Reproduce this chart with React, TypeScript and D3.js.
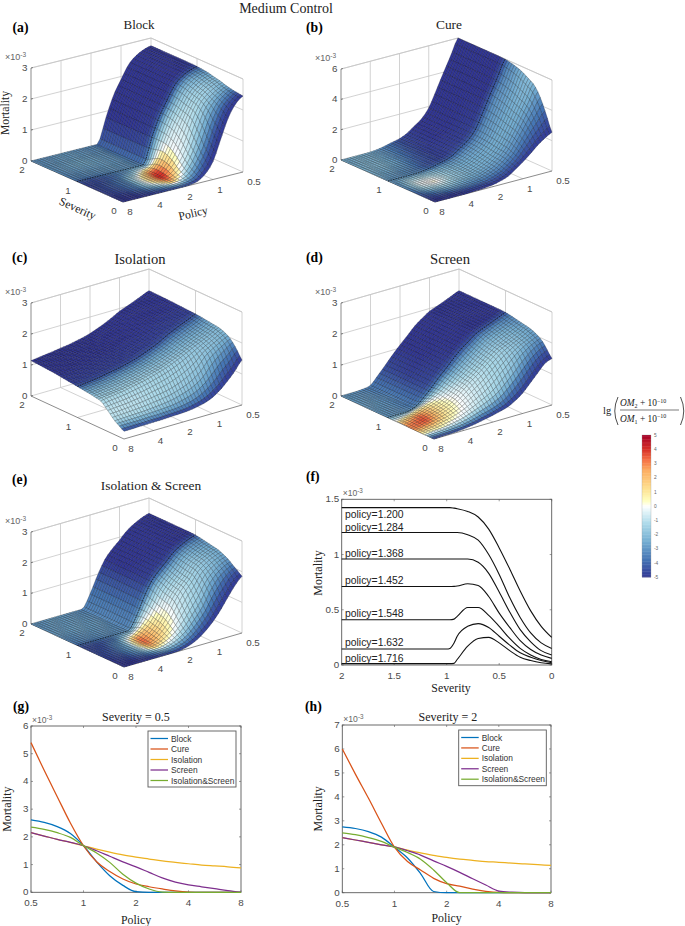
import React from "react";
import * as d3 from "d3";

// ---- shared axes of the surface tables (values in 1e-3 mortality) ----
const severityGrid = [2, 1.5, 1.1, 1, 0.9, 0.8, 0.7, 0.6, 0.5, 0.4, 0.3, 0.2, 0.1, 0];
const policyGrid = [0.5, 0.595, 0.707, 0.841, 1, 1.189, 1.414, 1.682, 2, 2.378, 2.828, 3.364, 4, 4.757, 5.657, 6.727, 8];
const colorPolicy = [0.5, 0.707, 1, 1.414, 2, 2.828, 4, 5.657, 8];

const blockZ = [
  [2.75, 2.68, 2.55, 2.32, 1.9, 1.45, 0.8, 0.05],
  [2.75, 2.68, 2.55, 2.32, 1.9, 1.45, 0.8, 0.05],
  [2.75, 2.68, 2.55, 2.32, 1.9, 1.44, 0.81, 0.05],
  [2.74, 2.67, 2.54, 2.31, 1.89, 1.43, 0.82, 0.05],
  [2.73, 2.66, 2.53, 2.29, 1.87, 1.42, 0.82, 0.12],
  [2.71, 2.64, 2.5, 2.26, 1.84, 1.39, 0.82, 0.22, 0.01],
  [2.68, 2.6, 2.46, 2.21, 1.79, 1.34, 0.8, 0.29, 0.03],
  [2.64, 2.56, 2.41, 2.16, 1.74, 1.24, 0.72, 0.28, 0.04],
  [2.61, 2.52, 2.37, 2.12, 1.68, 1.1, 0.6, 0.25, 0.02],
  [2.56, 2.45, 2.28, 2.02, 1.5, 0.88, 0.43, 0.16, 0.015],
  [2.52, 2.4, 2.2, 1.85, 1.25, 0.68, 0.28, 0.09, 0.01],
  [2.49, 2.35, 2.1, 1.62, 0.97, 0.5, 0.18, 0.05, 0.005],
  [2.47, 2.3, 2.0, 1.42, 0.75, 0.36, 0.11, 0.03],
  [2.45, 2.25, 1.85, 1.22, 0.58, 0.25, 0.07, 0.015],
];
const cureZ = [
  [6.0, 4.95, 3.95, 2.9, 1.9, 1.3, 0.95, 0.6, 0.38, 0.27, 0.15, 0.06, 0.01],
  [6.0, 4.95, 3.95, 2.9, 1.9, 1.3, 0.95, 0.6, 0.38, 0.27, 0.15, 0.06, 0.01],
  [6.0, 4.95, 3.95, 2.9, 1.9, 1.3, 0.95, 0.6, 0.38, 0.27, 0.15, 0.06, 0.01],
  [5.98, 4.93, 3.93, 2.88, 1.9, 1.3, 0.95, 0.6, 0.38, 0.27, 0.15, 0.06, 0.01],
  [5.93, 4.88, 3.88, 2.84, 1.88, 1.28, 0.93, 0.59, 0.38, 0.26, 0.15, 0.06, 0.01],
  [5.85, 4.8, 3.8, 2.78, 1.85, 1.26, 0.9, 0.58, 0.37, 0.25, 0.145, 0.06, 0.01],
  [5.75, 4.7, 3.7, 2.7, 1.8, 1.22, 0.85, 0.55, 0.35, 0.24, 0.14, 0.057, 0.01],
  [5.6, 4.56, 3.58, 2.6, 1.75, 1.17, 0.8, 0.52, 0.33, 0.22, 0.13, 0.055, 0.01],
  [5.4, 4.4, 3.45, 2.5, 1.68, 1.1, 0.75, 0.48, 0.3, 0.2, 0.12, 0.05, 0.01],
  [5.2, 4.25, 3.33, 2.42, 1.62, 1.07, 0.7, 0.45, 0.28, 0.18, 0.11, 0.045, 0.01],
  [4.8, 3.96, 3.14, 2.3, 1.55, 1.03, 0.66, 0.42, 0.25, 0.16, 0.09, 0.04, 0.008],
  [4.15, 3.48, 2.8, 2.08, 1.4, 0.95, 0.58, 0.36, 0.21, 0.13, 0.07, 0.03, 0.005],
  [3.35, 2.88, 2.37, 1.8, 1.25, 0.85, 0.5, 0.3, 0.16, 0.1, 0.05, 0.02],
  [2.55, 2.28, 1.93, 1.5, 1.1, 0.75, 0.42, 0.25, 0.13, 0.07, 0.03, 0.01],
];
const isolationZ = [
  [2.3, 2.2, 2.1, 2.0, 1.91, 1.78, 1.66, 1.56, 1.47, 1.4, 1.35, 1.3, 1.27, 1.23, 1.2, 1.17, 1.14],
  [2.28, 2.18, 2.08, 1.97, 1.87, 1.74, 1.62, 1.52, 1.43, 1.36, 1.31, 1.26, 1.22, 1.18, 1.15, 1.12, 1.09],
  [2.25, 2.15, 2.05, 1.94, 1.82, 1.68, 1.57, 1.47, 1.38, 1.31, 1.25, 1.2, 1.16, 1.12, 1.08, 1.05, 1.02],
  [2.24, 2.13, 2.03, 1.92, 1.8, 1.66, 1.55, 1.45, 1.36, 1.29, 1.23, 1.18, 1.14, 1.09, 1.06, 1.03, 1.0],
  [2.23, 2.12, 2.02, 1.91, 1.78, 1.64, 1.53, 1.43, 1.34, 1.27, 1.21, 1.16, 1.11, 1.07, 1.04, 1.01, 0.98],
  [2.21, 2.09, 1.98, 1.87, 1.76, 1.62, 1.51, 1.41, 1.32, 1.25, 1.19, 1.14, 1.09, 1.05, 1.02, 0.99, 0.96],
  [2.19, 2.07, 1.96, 1.85, 1.73, 1.6, 1.49, 1.39, 1.31, 1.24, 1.17, 1.12, 1.07, 1.03, 1.0, 0.97, 0.94],
  [2.17, 2.05, 1.93, 1.82, 1.7, 1.58, 1.47, 1.37, 1.29, 1.22, 1.15, 1.1, 1.05, 1.0, 0.97, 0.94, 0.91],
  [2.15, 2.03, 1.91, 1.8, 1.68, 1.56, 1.45, 1.35, 1.27, 1.2, 1.13, 1.08, 1.03, 0.98, 0.95, 0.92, 0.88],
  [2.1, 1.98, 1.85, 1.72, 1.55, 1.4, 1.27, 1.17, 1.08, 1.02, 0.96, 0.91, 0.87, 0.83, 0.8, 0.78, 0.75],
  [2.02, 1.9, 1.76, 1.6, 1.33, 1.15, 1.02, 0.92, 0.84, 0.79, 0.75, 0.71, 0.68, 0.65, 0.63, 0.61, 0.6],
  [1.88, 1.72, 1.55, 1.32, 1.05, 0.87, 0.75, 0.67, 0.6, 0.56, 0.53, 0.51, 0.49, 0.48, 0.47, 0.46, 0.45],
  [1.68, 1.42, 1.2, 0.95, 0.75, 0.6, 0.5, 0.44, 0.4, 0.38, 0.37, 0.36, 0.36, 0.35, 0.35, 0.35, 0.35],
  [1.45, 1.15, 0.9, 0.68, 0.52, 0.42, 0.36, 0.32, 0.3, 0.29, 0.28, 0.27, 0.27, 0.26, 0.26, 0.25, 0.25],
];
const screenZ = [
  [2.3, 2.2, 2.1, 2.0, 1.91, 1.75, 1.57, 1.33, 1.1, 0.85, 0.58, 0.32, 0.07, 0.02],
  [2.3, 2.2, 2.1, 2.0, 1.91, 1.75, 1.57, 1.33, 1.1, 0.85, 0.58, 0.32, 0.07, 0.02],
  [2.3, 2.2, 2.1, 2.0, 1.9, 1.73, 1.55, 1.32, 1.08, 0.84, 0.57, 0.32, 0.08, 0.02],
  [2.29, 2.19, 2.09, 1.99, 1.88, 1.7, 1.52, 1.3, 1.05, 0.82, 0.56, 0.33, 0.12, 0.02],
  [2.27, 2.16, 2.06, 1.95, 1.83, 1.64, 1.46, 1.25, 1.03, 0.81, 0.58, 0.38, 0.22, 0.12, 0.04, 0.01],
  [2.24, 2.13, 2.02, 1.92, 1.78, 1.6, 1.4, 1.2, 1.0, 0.78, 0.58, 0.42, 0.3, 0.2, 0.1, 0.04, 0.01],
  [2.21, 2.1, 1.99, 1.88, 1.74, 1.56, 1.36, 1.16, 0.97, 0.76, 0.56, 0.41, 0.31, 0.23, 0.14, 0.07, 0.02],
  [2.18, 2.06, 1.95, 1.83, 1.71, 1.53, 1.33, 1.13, 0.94, 0.74, 0.54, 0.39, 0.29, 0.22, 0.15, 0.07, 0.01],
  [2.15, 2.03, 1.91, 1.8, 1.68, 1.5, 1.3, 1.1, 0.92, 0.72, 0.52, 0.37, 0.27, 0.2, 0.13, 0.06],
  [2.1, 1.98, 1.87, 1.74, 1.58, 1.38, 1.16, 0.96, 0.79, 0.62, 0.45, 0.32, 0.23, 0.17, 0.11, 0.05],
  [2.02, 1.92, 1.8, 1.63, 1.4, 1.18, 0.95, 0.76, 0.62, 0.48, 0.35, 0.25, 0.18, 0.13, 0.08, 0.04],
  [1.9, 1.8, 1.62, 1.4, 1.15, 0.92, 0.7, 0.55, 0.44, 0.34, 0.25, 0.17, 0.12, 0.08, 0.05, 0.03],
  [1.7, 1.58, 1.38, 1.12, 0.87, 0.66, 0.48, 0.37, 0.29, 0.23, 0.16, 0.11, 0.07, 0.05, 0.03, 0.01],
  [1.5, 1.4, 1.15, 0.9, 0.65, 0.48, 0.35, 0.28, 0.22, 0.17, 0.12, 0.08, 0.05, 0.03, 0.02, 0.01],
];
const isoScreenZ = [
  [2.5, 2.42, 2.3, 2.14, 1.9, 1.68, 1.4, 0.95, 0.42],
  [2.5, 2.42, 2.3, 2.14, 1.9, 1.68, 1.4, 0.95, 0.42],
  [2.5, 2.42, 2.3, 2.14, 1.9, 1.67, 1.39, 0.94, 0.41],
  [2.49, 2.41, 2.29, 2.13, 1.89, 1.66, 1.38, 0.93, 0.4, 0.01],
  [2.47, 2.39, 2.27, 2.1, 1.85, 1.6, 1.33, 0.88, 0.45, 0.1],
  [2.44, 2.36, 2.24, 2.07, 1.79, 1.55, 1.27, 0.83, 0.45, 0.18, 0.02],
  [2.41, 2.33, 2.21, 2.04, 1.75, 1.5, 1.2, 0.77, 0.41, 0.18, 0.03],
  [2.38, 2.3, 2.18, 2.01, 1.71, 1.46, 1.16, 0.72, 0.37, 0.15, 0.02],
  [2.35, 2.27, 2.15, 1.98, 1.68, 1.42, 1.08, 0.65, 0.33, 0.12, 0.01],
  [2.28, 2.2, 2.06, 1.87, 1.52, 1.22, 0.85, 0.5, 0.25, 0.09, 0.01],
  [2.2, 2.1, 1.93, 1.68, 1.28, 0.95, 0.62, 0.36, 0.17, 0.06, 0.005],
  [2.08, 1.97, 1.77, 1.45, 1.03, 0.72, 0.44, 0.24, 0.11, 0.03],
  [1.97, 1.8, 1.5, 1.18, 0.8, 0.53, 0.31, 0.15, 0.06, 0.01],
  [1.85, 1.6, 1.27, 0.92, 0.63, 0.4, 0.22, 0.1, 0.03],
];

// lg ratio: severityGrid rows x colorPolicy columns
const blockC = [
  [-5, -5, -5, -5, -3.2, -3, -2.8, -3, -3],
  [-5, -5, -5, -5, -3, -2.6, -2.4, -2.6, -3],
  [-4.9, -5, -5, -4.8, -3, -2.8, -3, -3.2, -3.4],
  [-4.5, -4.5, -4.5, -4, -3, -3, -3.5, -4, -4],
  [-3.5, -3, -2.6, -2, -1, -3, -4, -4.5, -4.6],
  [-3, -2.3, -1.6, -0.9, 1.6, -2, -3.8, -4.5, -4.8],
  [-2.6, -1.9, -1.2, -0.4, 3.4, -0.6, -3.5, -4.4, -4.8],
  [-2.3, -1.6, -1, -0.1, 4.2, 0.4, -3.4, -4.3, -4.8],
  [-2.2, -1.5, -1, 0, 4.5, 0.6, -3.4, -4.3, -4.8],
  [-2.5, -1.8, -1.3, -0.2, 4.1, 0.5, -3.4, -4.4, -4.8],
  [-3, -2.5, -2, -0.8, 3, -0.4, -3.6, -4.6, -4.9],
  [-3.8, -3.4, -3.2, -2.2, 1.2, -2.2, -4, -4.8, -5],
  [-4.6, -4.5, -4.5, -3.6, -2.4, -3.8, -4.5, -5, -5],
  [-5, -5, -5, -5, -4.8, -4.8, -5, -5, -5],
];
const cureC = [
  [-5, -5, -5, -5, -4.6, -3.5, -2.5, -2.2, -2.5],
  [-5, -5, -5, -5, -4.8, -4, -2.5, -2, -2.2],
  [-5, -5, -4.8, -4.8, -4.8, -4.4, -3.5, -3, -2.6],
  [-4.5, -4.3, -4.2, -4.2, -4.2, -4, -3.3, -3, -3],
  [-3.4, -3.2, -3.2, -3.2, -3, -2.6, -1.8, -1.8, -3],
  [-3, -2.9, -2.9, -2.8, -2.6, -2, -0.8, -0.8, -3.2],
  [-2.6, -2.7, -2.7, -2.6, -2.4, -1.6, 0, -0.2, -3.2],
  [-2.3, -2.5, -2.5, -2.5, -2.3, -1.6, 0.3, -0.4, -3.5],
  [-2.1, -2.4, -2.5, -2.5, -2.3, -1.7, -0.5, -1, -3.8],
  [-2.2, -2.5, -2.6, -2.6, -2.5, -2.1, -1.4, -2.2, -4.2],
  [-2.8, -2.9, -2.9, -2.9, -2.9, -2.8, -2.6, -3.4, -4.5],
  [-3.6, -3.5, -3.4, -3.5, -3.5, -3.6, -3.8, -4.2, -4.8],
  [-4.4, -4.2, -4.2, -4.3, -4.4, -4.5, -4.8, -4.9, -5],
  [-5, -5, -5, -5, -5, -5, -5, -5, -5],
];
const isolationC = [
  [-5, -5, -5, -5, -5, -5, -5, -5, -5],
  [-5, -5, -5, -5, -5, -5, -5, -5, -5],
  [-4.8, -4.8, -4.8, -4.8, -4.8, -4.8, -4.8, -4.8, -4.8],
  [-4.4, -4.4, -4.4, -4.4, -4.4, -4.4, -4.4, -4.4, -4.4],
  [-3.6, -3.6, -3.4, -3.3, -3.3, -3.2, -3.2, -3.2, -3.2],
  [-3, -2.9, -2.8, -2.6, -2.6, -2.5, -2.5, -2.5, -2.5],
  [-2.6, -2.5, -2.4, -2.2, -2.1, -2, -2, -2, -2],
  [-2.4, -2.2, -2, -1.8, -1.7, -1.6, -1.6, -1.6, -1.6],
  [-2.2, -2, -1.8, -1.6, -1.5, -1.4, -1.3, -1.3, -1.3],
  [-2.2, -1.9, -1.7, -1.5, -1.4, -1.2, -1.1, -1, -1],
  [-2.5, -2.1, -1.8, -1.6, -1.4, -1.2, -1, -0.9, -0.9],
  [-3.2, -2.8, -2.3, -2, -1.8, -1.5, -1.3, -1.2, -1.2],
  [-4.2, -4, -3.4, -3.2, -3, -2.8, -2.6, -2.6, -2.6],
  [-5, -5, -5, -5, -5, -5, -4.8, -4.8, -4.8],
];
const screenC = [
  [-5, -5, -5, -5, -5, -4.6, -3.6, -3, -2.8],
  [-5, -5, -5, -5, -5, -4.8, -3.5, -2.8, -2.6],
  [-5, -5, -5, -5, -4.8, -4.6, -3.6, -3, -2.8],
  [-4.4, -4.4, -4.4, -4.4, -4.2, -3.8, -3.2, -2.8, -2.8],
  [-3.5, -3.2, -3.1, -3, -2.9, -2.2, -1, -0.4, -1.2],
  [-3.2, -2.7, -2.4, -2.2, -2, -1, 0.3, 1, 0.4],
  [-3, -2.3, -2, -1.7, -1.4, -0.4, 1, 2.8, 1.8],
  [-2.8, -2.1, -1.7, -1.4, -1, -0.1, 1.2, 3.5, 2.8],
  [-2.7, -2, -1.5, -1.2, -0.8, 0, 1.2, 3.7, 3],
  [-2.8, -2, -1.5, -1.2, -0.7, 0, 1.1, 3, 2.6],
  [-3, -2.3, -1.6, -1.2, -0.8, -0.1, 0.6, 1.4, 1.2],
  [-3.5, -3, -2.2, -1.7, -1.2, -0.6, -0.2, 0.3, 0],
  [-4.4, -4.2, -3.8, -3.5, -3.2, -2.8, -2.4, -2.4, -3],
  [-5, -5, -5, -5, -5, -5, -5, -5, -5],
];
const isoScreenC = [
  [-5, -5, -5, -5, -3.6, -3, -2.8, -2.8, -3],
  [-5, -5, -5, -5, -3.6, -2.8, -2.6, -2.6, -2.8],
  [-5, -5, -4.9, -4.8, -3.5, -3, -3, -3.2, -3.4],
  [-4.4, -4.4, -4.4, -4, -3, -3, -3.4, -3.8, -4],
  [-3.4, -3.1, -2.8, -2.2, -1, -1.6, -4, -4.4, -4.6],
  [-3, -2.6, -2, -1.4, 0, 0.6, -3.4, -4.5, -4.7],
  [-2.8, -2.2, -1.6, -1, 0.9, 2.8, -2.8, -4.4, -4.7],
  [-2.6, -2, -1.3, -0.8, 1.2, 3.5, -2.5, -4.3, -4.7],
  [-2.6, -1.9, -1.3, -0.7, 1.3, 3.4, -2.4, -4.2, -4.7],
  [-2.7, -2, -1.4, -0.7, 1.1, 2.8, -2.6, -4.3, -4.8],
  [-3, -2.3, -1.6, -1, 0.3, 1.5, -3, -4.5, -4.9],
  [-3.6, -3.1, -2.5, -2, -1, -1.5, -3.8, -4.7, -5],
  [-4.4, -4.3, -4, -3.6, -3.2, -3.4, -4.5, -5, -5],
  [-5, -5, -5, -5, -5, -5, -5, -5, -5],
];

// panel (f)
const severityF = [2, 1.5, 1.2, 1, 0.97, 0.93, 0.9, 0.8, 0.7, 0.6, 0.5, 0.4, 0.3, 0.2, 0.1, 0];
const policyF1200 = [1.425, 1.425, 1.425, 1.425, 1.425, 1.42, 1.415, 1.39, 1.34, 1.23, 1.06, 0.87, 0.67, 0.49, 0.35, 0.25];
const policyF1284 = [1.2, 1.2, 1.2, 1.2, 1.2, 1.2, 1.2, 1.18, 1.13, 1.0, 0.82, 0.61, 0.43, 0.29, 0.2, 0.15];
const policyF1368 = [0.96, 0.96, 0.96, 0.96, 0.96, 0.96, 0.96, 0.96, 0.93, 0.83, 0.66, 0.48, 0.32, 0.21, 0.13, 0.09];
const policyF1452 = [0.71, 0.71, 0.71, 0.71, 0.71, 0.712, 0.715, 0.735, 0.72, 0.62, 0.47, 0.34, 0.22, 0.14, 0.09, 0.06];
const policyF1548 = [0.41, 0.41, 0.41, 0.41, 0.41, 0.415, 0.44, 0.52, 0.52, 0.45, 0.35, 0.24, 0.15, 0.09, 0.05, 0.03];
const policyF1632 = [0.145, 0.145, 0.145, 0.145, 0.15, 0.2, 0.26, 0.35, 0.375, 0.34, 0.26, 0.18, 0.11, 0.07, 0.04, 0.02];
const policyF1716 = [0.012, 0.012, 0.012, 0.012, 0.012, 0.015, 0.05, 0.17, 0.24, 0.25, 0.2, 0.13, 0.07, 0.04, 0.02, 0.01];
const policyFSeries = [policyF1200, policyF1284, policyF1368, policyF1452, policyF1548, policyF1632, policyF1716];
const policyFLabels = ["policy=1.200", "policy=1.284", "policy=1.368", "policy=1.452", "policy=1.548", "policy=1.632", "policy=1.716"];
const policyFLabelY = [514, 527, 553, 580, 613, 642, 658];

const seriesNames = ["Block", "Cure", "Isolation", "Screen", "Isolation&Screen"];
const seriesColors = ["#0072BD", "#D95319", "#EDB120", "#7E2F8E", "#77AC30"];
const policyTicks = [0.5, 1, 2, 4, 8];
const legendTables = [blockZ, cureZ, isolationZ, screenZ, isoScreenZ];

// lg-ratio colour scale
const cmapDomain = [-5, -3.75, -2.5, -1.25, -0.4, 0, 0.4, 1.25, 2.5, 3.3, 4, 5];
const cmapRange = ["#313695", "#4575b4", "#74add1", "#abd9e9", "#e0f3f8", "#ffffff", "#ffffbf", "#fee090", "#fdae61", "#f46d43", "#d73027", "#a50026"];
const colorOf = d3.scaleLinear<string>().domain(cmapDomain).range(cmapRange).clamp(true);

const SANS = "'Liberation Sans', Arial, sans-serif";
const SERIF = "'Liberation Serif', 'Times New Roman', serif";
const TICK = "#4a4a4a";
const FRAME = "#5a5a5a";

const sevIdx = d3.scaleLinear().domain(severityGrid).range(severityGrid.map((_, i) => i));
const polIdx = d3.scaleLog().base(2).domain(policyGrid).range(policyGrid.map((_, i) => i));
const colIdx = d3.scaleLog().base(2).domain(colorPolicy).range(colorPolicy.map((_, i) => i));

const cr = (a: number, b: number, c: number, d: number, t: number) =>
  0.5 * (2 * b + (c - a) * t + (2 * a - 5 * b + 4 * c - d) * t * t + (3 * b - a - 3 * c + d) * t * t * t);

function readZ(tbl: number[][], s: number, p: number) {
  const ri = sevIdx(s), ci = polIdx(p);
  const r0 = Math.min(Math.floor(ri), tbl.length - 2), c0 = Math.min(Math.floor(ci), policyGrid.length - 2);
  const tr = ri - r0, tc = ci - c0;
  const at = (r: number, c: number) => {
    const row = tbl[Math.max(0, Math.min(tbl.length - 1, r))];
    return row[Math.max(0, Math.min(policyGrid.length - 1, c))] ?? 0;
  };
  const rows = [-1, 0, 1, 2].map((k) => cr(at(r0 + k, c0 - 1), at(r0 + k, c0), at(r0 + k, c0 + 1), at(r0 + k, c0 + 2), tc));
  return Math.max(0, cr(rows[0], rows[1], rows[2], rows[3], tr));
}
function readC(tbl: number[][], s: number, p: number) {
  const ri = sevIdx(s), ci = colIdx(p);
  const r0 = Math.min(Math.floor(ri), tbl.length - 2), c0 = Math.min(Math.floor(ci), colorPolicy.length - 2);
  const tr = ri - r0, tc = ci - c0;
  const a = d3.interpolateNumber(tbl[r0][c0], tbl[r0][c0 + 1])(tc);
  const b = d3.interpolateNumber(tbl[r0 + 1][c0], tbl[r0 + 1][c0 + 1])(tc);
  return d3.interpolateNumber(a, b)(tr);
}

interface Geo { lx: number; ly: number; fx: number; fy: number; rx: number; ry: number; ty: number; zMax: number; zTicks: number[] }
interface P3 { z: number[][]; c: number[][]; geo: Geo; title: string; titleX: number; titleY: number; titleSize: number; tag: string; tagX: number; tagY: number; axisTitles?: boolean }

const MESH = 40;
const path = d3.line();

function Surface3D({ z, c, geo, title, titleX, titleY, titleSize, tag, tagX, tagY, axisTitles }: P3) {
  const { lx, ly, fx, fy, rx, ry, ty, zMax, zTicks } = geo;
  const uOf = d3.scaleLinear().domain([2, 0]).range([0, 1]);
  const vOf = d3.scaleLog().base(2).domain([8, 0.5]).range([0, 1]);
  const hOf = d3.scaleLinear().domain([0, zMax]).range([0, ly - ty]);
  const pr = (s: number, p: number, h: number): [number, number] => {
    const u = uOf(s), v = vOf(p);
    return [lx + u * (fx - lx) + v * (rx - fx), ly + u * (fy - ly) + v * (ry - fy) - hOf(h)];
  };
  const sIdx = d3.range(MESH + 1).map((i) => uOf.invert(i / MESH));
  const pIdx = d3.range(MESH + 1).map((j) => vOf.invert(j / MESH));
  const pts = sIdx.map((s) => pIdx.map((p) => pr(s, p, readZ(z, s, p))));
  const cells: { d: string; fill: string; stroke: string }[] = [];
  for (let i = 0; i < MESH; i++) {
    for (let j = MESH - 1; j >= 0; j--) {
      const fill = colorOf(readC(c, (sIdx[i] + sIdx[i + 1]) / 2, Math.sqrt(pIdx[j] * pIdx[j + 1])));
      cells.push({
        d: path([pts[i][j], pts[i][j + 1], pts[i + 1][j + 1], pts[i + 1][j]]) + "Z",
        fill,
        stroke: d3.interpolateRgb(fill, "#000")(0.62),
      });
    }
  }
  const seg = (a: [number, number], b: [number, number]) => path([a, b]) as string;
  const grid = "#c6c6c6";
  const wallLines: string[] = [];
  zTicks.slice(1).forEach((t) => {
    wallLines.push(seg(pr(2, 8, t), pr(2, 0.5, t)));
    wallLines.push(seg(pr(2, 0.5, t), pr(0, 0.5, t)));
  });
  zTicks.slice(0, 1).forEach((t) => {
    wallLines.push(seg(pr(2, 0.5, t), pr(2, 8, t)));
    wallLines.push(seg(pr(2, 0.5, t), pr(0, 0.5, t)));
  });
  [4, 2, 1].forEach((p) => {
    wallLines.push(seg(pr(2, p, 0), pr(2, p, zMax)));
    wallLines.push(seg(pr(2, p, 0), pr(0, p, 0)));
  });
  wallLines.push(seg(pr(1, 0.5, 0), pr(1, 0.5, zMax)));
  wallLines.push(seg(pr(1, 8, 0), pr(1, 0.5, 0)));
  wallLines.push(seg(pr(2, 0.5, 0), pr(2, 0.5, zMax)));
  wallLines.push(seg(pr(0, 0.5, 0), pr(0, 0.5, zMax)));
  wallLines.push(seg(pr(2, 8, zMax), pr(2, 0.5, zMax)));
  wallLines.push(seg(pr(2, 0.5, zMax), pr(0, 0.5, zMax)));
  const dotted = path(pIdx.map((p) => pr(1, p, readZ(z, 1, p))));
  const tickLabel = { fontFamily: SANS, fontSize: 9.8, fill: TICK };
  const [x8] = pr(2, 8, 0);
  return (
    <g>
      <text x={tagX} y={tagY} fontFamily={SERIF} fontWeight="bold" fontSize={13.7}>{tag}</text>
      <text x={titleX} y={titleY} textAnchor="middle" fontFamily={SERIF} fontSize={titleSize} fill="#222">{title}</text>
      <g stroke={grid} strokeWidth={0.8} fill="none">
        {wallLines.map((d, i) => <path key={i} d={d} />)}
      </g>
      <path d={seg(pr(2, 8, 0), pr(0, 8, 0))} stroke={FRAME} strokeWidth={0.7} />
      <path d={seg(pr(0, 8, 0), pr(0, 0.5, 0))} stroke={FRAME} strokeWidth={0.7} />
      <path d={seg(pr(2, 8, 0), pr(2, 8, zMax))} stroke={FRAME} strokeWidth={0.7} />
      {zTicks.map((t) => {
        const [x, y] = pr(2, 8, t);
        return (
          <g key={t}>
            <line x1={x} x2={x + 2} y1={y} y2={y - 0.5} stroke={FRAME} strokeWidth={0.7} />
            <text x={x - 3.5} y={y + 3} textAnchor="end" {...tickLabel}>{t}</text>
          </g>
        );
      })}
      <text x={x8 - 26} y={ty - 8} fontFamily={SANS} fontSize={9} fill="#666">
        ×10<tspan dy={-3} fontSize={6.5}>-3</tspan>
      </text>
      {[2, 1, 0].map((s) => {
        const [x, y] = pr(s, 8, 0);
        return <text key={s} x={x - 9} y={y + 12} textAnchor="middle" {...tickLabel}>{s}</text>;
      })}
      {policyTicks.map((p) => {
        const [x, y] = pr(0, p, 0);
        return <text key={p} x={x + (p === 0.5 ? 11 : 7)} y={y + 13} textAnchor="middle" {...tickLabel}>{String(p)}</text>;
      })}
      {axisTitles && (
        <g fontFamily={SERIF} fontSize={11.7} fill="#222">
          <text transform="translate(9,113) rotate(-90)" textAnchor="middle">Mortality</text>
          <text transform="translate(76,212) rotate(24)" textAnchor="middle">Severity</text>
          <text transform="translate(194,217) rotate(-13)" textAnchor="middle">Policy</text>
        </g>
      )}
      <g strokeWidth={0.36}>
        {cells.map((cell, i) => <path key={i} d={cell.d} fill={cell.fill} stroke={cell.stroke} />)}
      </g>
      <path d={dotted as string} fill="none" stroke="#000" strokeWidth={0.6} strokeDasharray="1.4 1.2" />
    </g>
  );
}

function Frame2D({ left, right, top, bottom, xTicks, yTicks, x, y }: any) {
  return (
    <g>
      <rect x={left} y={top} width={right - left} height={bottom - top} fill="none" stroke={FRAME} strokeWidth={0.9} />
      {xTicks.map((t: number) => (
        <g key={t}>
          <line x1={x(t)} x2={x(t)} y1={bottom} y2={bottom - 2} stroke={FRAME} strokeWidth={0.6} />
          <line x1={x(t)} x2={x(t)} y1={top} y2={top + 2} stroke={FRAME} strokeWidth={0.6} />
          <text x={x(t)} y={bottom + 14} textAnchor="middle" fontFamily={SANS} fontSize={9.8} fill={TICK}>{String(t)}</text>
        </g>
      ))}
      {yTicks.map((t: number) => (
        <g key={t}>
          <line x1={left} x2={left + 2} y1={y(t)} y2={y(t)} stroke={FRAME} strokeWidth={0.6} />
          <line x1={right} x2={right - 2} y1={y(t)} y2={y(t)} stroke={FRAME} strokeWidth={0.6} />
          <text x={left - 2.5} y={y(t) + 3} textAnchor="end" fontFamily={SANS} fontSize={9.8} fill={TICK}>{t}</text>
        </g>
      ))}
      <text x={left + 1} y={top - 3} fontFamily={SANS} fontSize={8.6} fill="#666">
        ×10<tspan dy={-3} fontSize={6.3}>-3</tspan>
      </text>
    </g>
  );
}

function PolicyPanel({ rowSeverity, left, right, top, bottom, yMax, yTicks, title, titleX, tag, tagX, yLabelX, xLabelY, legend }: any) {
  const x = d3.scaleLog().base(2).domain([0.5, 8]).range([left, right]);
  const y = d3.scaleLinear().domain([0, yMax]).range([bottom, top]);
  const rowIndex = severityGrid.indexOf(rowSeverity);
  const line = d3.line<number>().x((_, i) => x(policyGrid[i])).y((d) => y(d)).curve(d3.curveMonotoneX);
  const entryY = d3.scaleLinear().domain([0, 4]).range([legend.y + 7.5, legend.y2 - 6.5]);
  return (
    <g>
      <text x={tagX} y={711} fontFamily={SERIF} fontWeight="bold" fontSize={13.7}>{tag}</text>
      <text x={titleX} y={721} textAnchor="middle" fontFamily={SERIF} fontSize={12} fill="#222">{title}</text>
      <text transform={`translate(${yLabelX},${(top + bottom) / 2}) rotate(-90)`} textAnchor="middle" fontFamily={SERIF} fontSize={12} fill="#222">Mortality</text>
      <text x={(left + right) / 2} y={xLabelY} textAnchor="middle" fontFamily={SERIF} fontSize={11.8} fill="#222">Policy</text>
      <Frame2D left={left} right={right} top={top} bottom={bottom} xTicks={policyTicks} yTicks={yTicks} x={x} y={y} />
      {legendTables.map((tbl, k) => {
        const vals = policyGrid.map((_, i) => tbl[rowIndex][i] ?? 0);
        return <path key={k} d={line(vals) as string} fill="none" stroke={seriesColors[k]} strokeWidth={1.25} />;
      })}
      <rect x={legend.x} y={legend.y} width={legend.x2 - legend.x} height={legend.y2 - legend.y} fill="#fff" stroke={FRAME} strokeWidth={0.9} />
      {seriesNames.map((n, k) => (
        <g key={n}>
          <line x1={legend.x + 2.5} x2={legend.x + 20} y1={entryY(k)} y2={entryY(k)} stroke={seriesColors[k]} strokeWidth={1.25} />
          <text x={legend.x + 23} y={entryY(k) + 3} fontFamily={SANS} fontSize={8.4} fill="#333">{n}</text>
        </g>
      ))}
    </g>
  );
}

function PanelF() {
  const left = 341.7, right = 551.7, top = 499.3, bottom = 665;
  const x = d3.scaleLinear().domain([2, 0]).range([left, right]);
  const y = d3.scaleLinear().domain([0, 1.5]).range([bottom, top]);
  const line = d3.line<number>().x((_, i) => x(severityF[i])).y((d) => y(d)).curve(d3.curveMonotoneX);
  return (
    <g>
      <text x={306} y={481} fontFamily={SERIF} fontWeight="bold" fontSize={13.7}>(f)</text>
      <Frame2D left={left} right={right} top={top} bottom={bottom} xTicks={[2, 1.5, 1, 0.5, 0]} yTicks={[0, 0.5, 1, 1.5]} x={x} y={y} />
      <text transform="translate(322,573) rotate(-90)" textAnchor="middle" fontFamily={SERIF} fontSize={12} fill="#222">Mortality</text>
      <text x={451} y={692} textAnchor="middle" fontFamily={SERIF} fontSize={11.8} fill="#222">Severity</text>
      {policyFSeries.map((vals, k) => <path key={k} d={line(vals) as string} fill="none" stroke="#111" strokeWidth={1.1} />)}
      {policyFLabels.map((t, k) => (
        <text key={t} x={345} y={policyFLabelY[k] + 3.6} fontFamily={SANS} fontSize={10.4} fill="#222">{t}</text>
      ))}
    </g>
  );
}

function ColorBar() {
  const y = d3.scaleLinear().domain([-5, 5]).range([577, 435]);
  const steps = d3.range(-5, 5, 0.1);
  return (
    <g>
      {steps.map((v) => (
        <rect key={v} x={642} width={9} y={y(v + 0.1)} height={y(v) - y(v + 0.1) + 0.4} fill={colorOf(v + 0.05)} />
      ))}
      <rect x={642} y={435} width={9} height={142} fill="none" stroke="#999" strokeWidth={0.3} />
      {d3.range(-5, 6).map((t) => (
        <text key={t} x={654} y={y(t) + 1.8} fontFamily={SANS} fontSize={4.8} fill="#666">{t}</text>
      ))}
      <g fontFamily={SERIF} fill="#222">
        <text x={603} y={414} fontSize={10.5}>lg</text>
        <path d="M618,397 Q611.5,411 618,425" fill="none" stroke="#222" strokeWidth={0.8} />
        <path d="M680.5,397 Q687,411 680.5,425" fill="none" stroke="#222" strokeWidth={0.8} />
        <text x={620} y={406} fontSize={9.4}>
          <tspan fontStyle="italic">OM</tspan><tspan fontSize={6} dy={2}>2</tspan><tspan dy={-2}> + 10</tspan><tspan fontSize={6} dy={-3.5}>−10</tspan>
        </text>
        <line x1={620} x2={679} y1={410} y2={410} stroke="#222" strokeWidth={0.6} />
        <text x={620} y={421.5} fontSize={9.4}>
          <tspan fontStyle="italic">OM</tspan><tspan fontSize={6} dy={2}>1</tspan><tspan dy={-2}> + 10</tspan><tspan fontSize={6} dy={-3.5}>−10</tspan>
        </text>
      </g>
    </g>
  );
}

const geoA: Geo = { lx: 31, ly: 161, fx: 123, fy: 202, rx: 243, ry: 172, ty: 68, zMax: 3, zTicks: [0, 1, 2, 3] };
const geoB: Geo = { lx: 341, ly: 160, fx: 435, fy: 202, rx: 552, ry: 171, ty: 69, zMax: 6, zTicks: [0, 2, 4, 6] };
const geoC: Geo = { lx: 31, ly: 396, fx: 124, fy: 439, rx: 242, ry: 405, ty: 303, zMax: 3, zTicks: [0, 1, 2, 3] };
const geoD: Geo = { lx: 341, ly: 396, fx: 434, fy: 439, rx: 552, ry: 405, ty: 303, zMax: 3, zTicks: [0, 1, 2, 3] };
const geoE: Geo = { lx: 31, ly: 624, fx: 124, fy: 667, rx: 242, ry: 633, ty: 532, zMax: 3, zTicks: [0, 1, 2, 3] };

export default function App() {
  return (
    <svg width={685} height={926} viewBox="0 0 685 926" style={{ position: "absolute", left: 0, top: 0, display: "block", background: "#fff" }}>
      <text x={286} y={12.5} textAnchor="middle" fontFamily={SERIF} fontSize={14} fill="#222">Medium Control</text>
      <Surface3D z={blockZ} c={blockC} geo={geoA} title="Block" titleX={139} titleY={29} titleSize={13} tag="(a)" tagX={12.5} tagY={32} axisTitles />
      <Surface3D z={cureZ} c={cureC} geo={geoB} title="Cure" titleX={449} titleY={29} titleSize={13.4} tag="(b)" tagX={306} tagY={32} />
      <Surface3D z={isolationZ} c={isolationC} geo={geoC} title="Isolation" titleX={140} titleY={264} titleSize={14.6} tag="(c)" tagX={12} tagY={262} />
      <Surface3D z={screenZ} c={screenC} geo={geoD} title="Screen" titleX={450} titleY={264} titleSize={14.7} tag="(d)" tagX={306} tagY={262} />
      <Surface3D z={isoScreenZ} c={isoScreenC} geo={geoE} title="Isolation & Screen" titleX={151} titleY={490} titleSize={13.4} tag="(e)" tagX={12} tagY={484} />
      <PanelF />
      <PolicyPanel rowSeverity={0.5} left={31} right={241} top={726} bottom={892.3} yMax={6} yTicks={[0, 1, 2, 3, 4, 5, 6]}
        title="Severity = 0.5" titleX={136} tag="(g)" tagX={13} yLabelX={11} xLabelY={924}
        legend={{ x: 148, x2: 236, y: 731, y2: 787 }} />
      <PolicyPanel rowSeverity={2} left={342.3} right={551} top={725} bottom={892.7} yMax={7} yTicks={[0, 1, 2, 3, 4, 5, 6, 7]}
        title="Severity = 2" titleX={448} tag="(h)" tagX={305} yLabelX={322} xLabelY={922}
        legend={{ x: 458.7, x2: 546.3, y: 730, y2: 785.7 }} />
      <ColorBar />
    </svg>
  );
}
